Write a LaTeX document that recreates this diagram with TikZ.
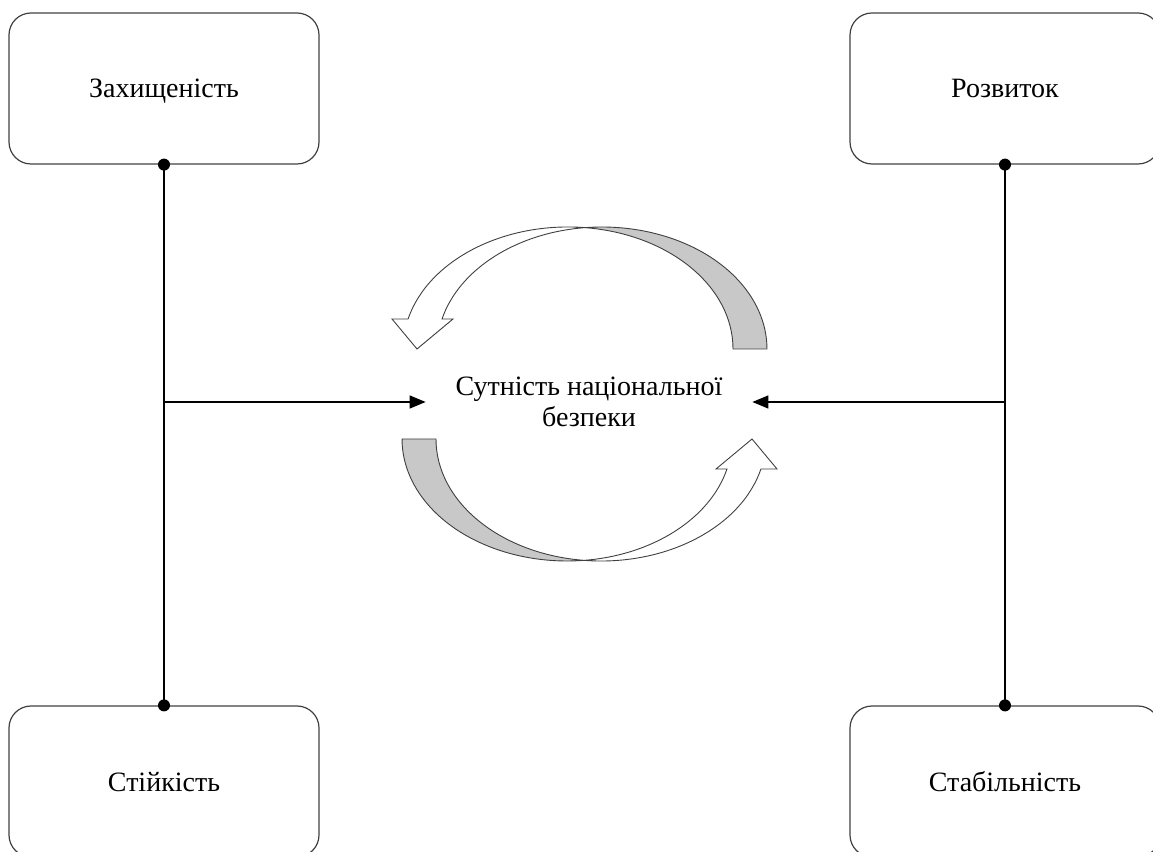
\documentclass[tikz,border=0pt]{standalone}
\usepackage{fontspec}
\setmainfont{Liberation Serif}
\usepackage{tikz}
\usetikzlibrary{arrows.meta,positioning}

\definecolor{edgegray}{RGB}{64,64,64}
\definecolor{bandgray}{RGB}{200,200,200}

\begin{document}
\begin{tikzpicture}[x=1pt, y=1pt,
        factor/.style={draw=edgegray, line width=1.2pt, rounded corners=22pt,
            minimum width=310pt, minimum height=151pt, inner sep=0pt,
            text depth=0pt, font=\fontsize{28}{32}\selectfont},
        joint/.style={circle, fill=black, inner sep=0pt, minimum size=12pt},
        link/.style={line width=1.3pt},
        feed/.style={line width=1.3pt, -{Triangle[length=16pt,width=13pt]}},
        band/.style={draw=edgegray, line width=0.9pt}
    ]
    \useasboundingbox (0,0) rectangle (1153,851);

    \node[factor] (prot) at (164,762.5) {Захищеність};
    \node[factor] (dev) at (1005,762.5) {Розвиток};
    \node[factor] (res) at (164,69.5) {Стійкість};
    \node[factor] (stab) at (1005,69.5) {Стабільність};

    \node[align=center, inner xsep=30pt, inner ysep=0pt, outer sep=0pt,
        font=\fontsize{28}{31}\selectfont] (core) at (589,449)
        {Сутність національної\\безпеки};

    \draw[link] (prot.south) -- (res.north);
    \draw[link] (dev.south) -- (stab.north);
    \coordinate (jl) at (prot.south |- core.west) ;
    \coordinate (jr) at (dev.south |- core.east) ;
    \draw[feed] (jl) -- (core.west);
    \draw[feed] (jr) -- (core.east);

    \foreach \n in {prot.south, dev.south, res.north, stab.north}
        \node[joint] at (\n) {};

    % two turning ribbons, the lower one is the upper one turned by 180
    \foreach \r in {0,180} {
        \begin{scope}[rotate around={\r:(584.5,457)}]
            \filldraw[band, fill=bandgray] (733,502)
                arc[start angle=0, end angle=84.09, x radius=165, y radius=122]
                arc[start angle=95.91, end angle=0, x radius=165, y radius=122]
                -- cycle;
            \filldraw[band, fill=white] (408.06,532)
                arc[start angle=165.77, end angle=84.09, x radius=165, y radius=122]
                arc[start angle=95.91, end angle=165.77, x radius=165, y radius=122]
                -- (453,532) -- (417,502) -- (392,532) -- cycle;
        \end{scope}
    }

\end{tikzpicture}
\end{document}
